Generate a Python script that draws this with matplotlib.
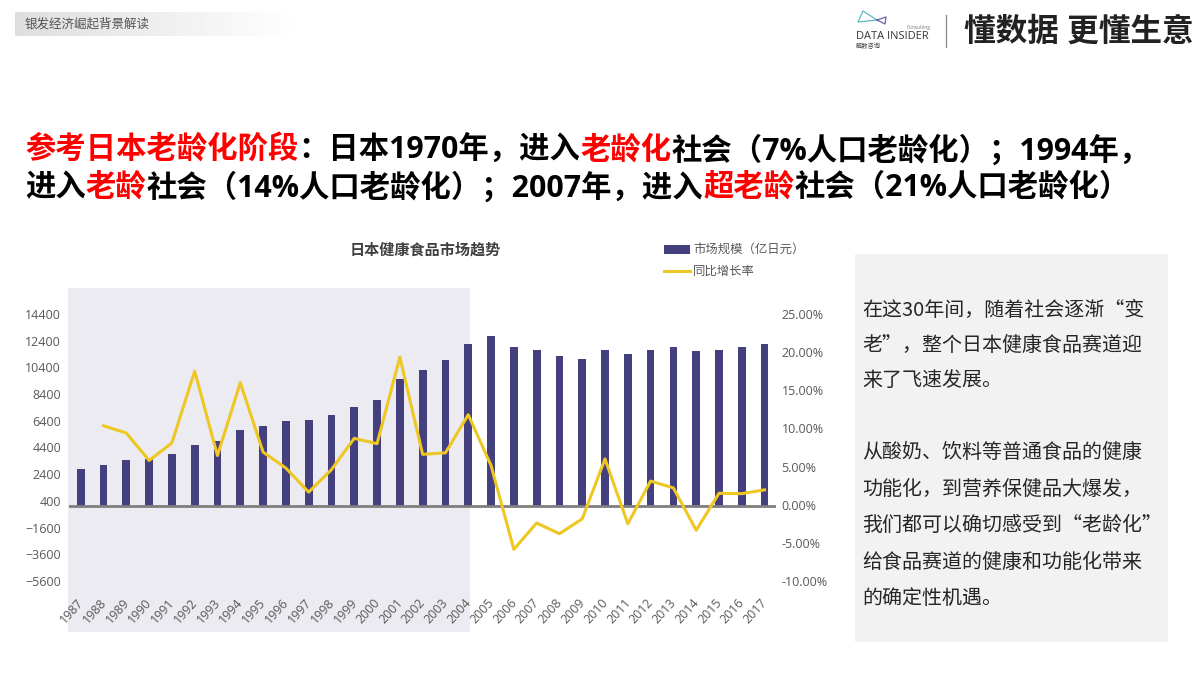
import numpy as np
import matplotlib
matplotlib.use('Agg')
import matplotlib.pyplot as plt
from matplotlib.patches import Rectangle
from matplotlib.lines import Line2D
from matplotlib.transforms import ScaledTranslation

plt.rcParams['font.family'] = ['Open Sans', 'Noto Sans CJK SC', 'DejaVu Sans']

W, H = 1200, 675

years = list(range(1987, 2018))
market_size = [2770, 3120, 3445, 3520, 3895, 4570, 4920, 5690, 6040, 6390, 6490,
               6840, 7415, 7990, 9565, 10240, 10940, 12190, 12730, 11960, 11740,
               11260, 11040, 11740, 11385, 11740, 11960, 11610, 11740, 11960, 12190]
growth = [None, 10.35, 9.4, 5.8, 8.1, 17.5, 6.45, 16.0, 6.9, 4.8, 1.65,
          4.6, 8.7, 8.0, 19.35, 6.6, 6.8, 11.8, 5.15, -5.85, -2.4,
          -3.8, -1.85, 6.0, -2.5, 3.1, 2.2, -3.35, 1.5, 1.45, 1.95]
left_ticks = [-5600, -3600, -1600, 400, 2400, 4400, 6400, 8400, 10400, 12400, 14400]
right_ticks = [-10, -5, 0, 5, 10, 15, 20, 25]

title_line1 = [('参考日本老龄化阶段', 'red'), ('：日本1970年，进入', 'black'), ('老龄化', 'red'),
               ('社会（7%人口老龄化）；1994年，', 'black')]
title_line2 = [('进入', 'black'), ('老龄', 'red'), ('社会（14%人口老龄化）；2007年，进入', 'black'),
               ('超老龄', 'red'), ('社会（21%人口老龄化）', 'black')]
side_text = [('在这30年间，随着社会逐渐“变', 310), ('老”，整个日本健康食品赛道迎', 345),
             ('来了飞速发展。', 380), ('从酸奶、饮料等普通食品的健康', 452),
             ('功能化，到营养保健品大爆发，', 489), ('我们都可以确切感受到“老龄化”', 525),
             ('给食品赛道的健康和功能化带来', 562), ('的确定性机遇。', 598)]

NAVY = '#443f7f'
YELLOW = '#eec723'
GRAY = '#595959'


def fx(x):
    return x / W


def fy(y):
    return 1 - y / H


def colored_line(fig, parts, x, y, size):
    # draw the pieces one after the other, each starts where the last one ended
    renderer = fig.canvas.get_renderer()
    for s, c in parts:
        t = fig.text(fx(x), fy(y), s, color=c, fontsize=size, fontweight='bold', va='center', ha='left')
        x = t.get_window_extent(renderer).x1


fig = plt.figure(figsize=(12, 6.75), dpi=100, facecolor='white')

# top left grey label with fade out
bar_ax = fig.add_axes([fx(15), fy(36), fx(285), 24 / H])
bar_ax.imshow(np.linspace(0.87, 1, 256).reshape(1, -1), cmap='gray', vmin=0, vmax=1, aspect='auto')
bar_ax.axis('off')
fig.text(fx(25), fy(24), '银发经济崛起背景解读', fontsize=9, color='#555555', va='center')

# logo
logo = fig.add_axes([0, 0, 1, 1], facecolor='none')
logo.set_xlim(0, W)
logo.set_ylim(H, 0)
logo.axis('off')
logo.add_line(Line2D([877, 863, 858, 877], [20, 11, 22, 20], color='#5fb8c4', lw=0.9))
logo.add_line(Line2D([877, 886, 885, 877], [20, 17, 24, 20], color='#6a5fa8', lw=0.9))
logo.add_line(Line2D([946, 946], [15, 47], color='#888888', lw=0.9))
fig.text(fx(856), fy(36.5), 'DATA INSIDER', fontsize=7.9, color='#333333', va='center')
fig.text(fx(907), fy(27.5), 'Consulting', fontsize=3.5, color='#777777', va='center')
fig.text(fx(856), fy(46), '解数咨询', fontsize=4.5, color='#444444', va='center')
fig.text(fx(964), fy(32), '懂数据 更懂生意', fontsize=22.8, fontweight='bold', color='#222222', va='center')

# headline
colored_line(fig, title_line1, 25, 151, 21.85)
colored_line(fig, title_line2, 25, 188, 21.85)

# shaded period and side panel
fig.patches.append(Rectangle((fx(68), fy(632)), fx(402), 344 / H, transform=fig.transFigure,
                             facecolor='#ebebf1', edgecolor='none', zorder=-2))
fig.patches.append(Rectangle((fx(855), fy(642)), fx(313), 388 / H, transform=fig.transFigure,
                             facecolor='#f2f2f2', edgecolor='none', zorder=-2))

for s, y in side_text:
    fig.text(fx(862), fy(y), s, fontsize=14.4, color='#262626', va='center',
             family=['Noto Sans CJK SC', 'DejaVu Sans'])

# chart
ax = fig.add_axes([fx(69.3), fy(581), fx(706.7), 267 / H], facecolor='none')
x = np.arange(len(years))
ax.bar(x, market_size, width=0.34, color=NAVY, zorder=2)
ax.axhline(0, color='#7f7f7f', lw=2, zorder=3)
ax.set_xlim(-0.5, len(years) - 0.5)
ax.set_ylim(-5600, 14400)
ax.set_yticks(left_ticks)
ax.set_xticks(x)
ax.set_xticklabels(years, rotation=48, ha='right', rotation_mode='anchor', fontsize=9, color=GRAY)
ax.tick_params(axis='x', length=0, pad=11)
ax.tick_params(axis='y', length=0, pad=6, labelsize=9, labelcolor=GRAY)
shift = ScaledTranslation(-3 / 72, 0, fig.dpi_scale_trans)
for lab in ax.get_xticklabels():
    lab.set_transform(lab.get_transform() + shift)
for side in ax.spines.values():
    side.set_visible(False)

ax2 = ax.twinx()
ax2.set_facecolor('none')
ax2.plot(x, [np.nan if g is None else g for g in growth], color=YELLOW, lw=2.2, zorder=4)
ax2.set_ylim(-10, 25)
ax2.set_yticks(right_ticks)
ax2.set_yticklabels(['%.2f%%' % v for v in right_ticks])
ax2.tick_params(axis='y', length=0, pad=4, labelsize=9, labelcolor=GRAY)
for side in ax2.spines.values():
    side.set_visible(False)

fig.text(fx(425.5), fy(250), '日本健康食品市场趋势', fontsize=10.9, fontweight='bold', color='#404040',
         ha='center', va='center')

# legend by hand, same spot as the reference
fig.patches.append(Rectangle((fx(664), fy(254)), fx(26), 9 / H, transform=fig.transFigure,
                             facecolor=NAVY, edgecolor='none'))
logo.add_line(Line2D([664, 690], [271, 271], color=YELLOW, lw=2.2))
fig.text(fx(693), fy(250), '市场规模（亿日元）', fontsize=8.9, color=GRAY, va='center')
fig.text(fx(693), fy(271), '同比增长率', fontsize=8.9, color=GRAY, va='center')

fig.savefig('out.png', dpi=100)
